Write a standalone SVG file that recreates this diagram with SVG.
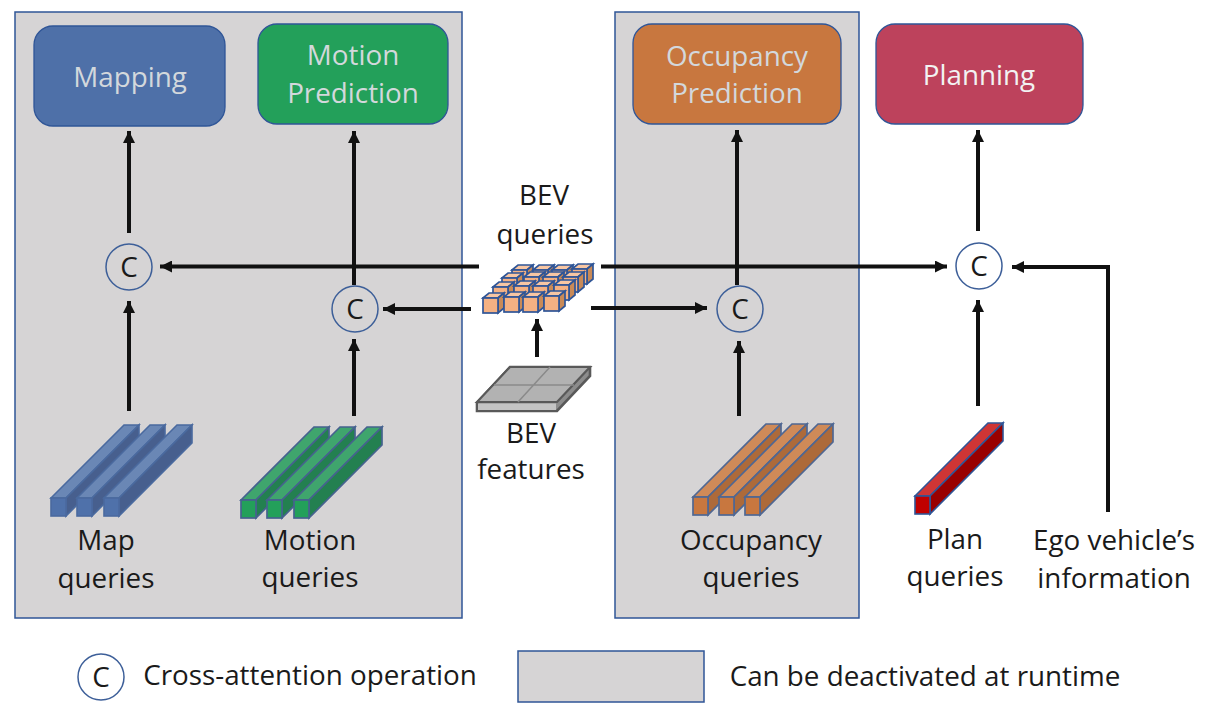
<svg xmlns="http://www.w3.org/2000/svg" width="1211" height="713" viewBox="0 0 1211 713">
<style>
text{font-family:"Open Sans","Noto Sans",sans-serif;font-size:27.8px;fill:#1a1a1a;text-anchor:middle;stroke:none}
text.l{fill:#d3d8dc}
text.p{fill:#f2f2f2}
.panel{fill:#d6d4d5;stroke:#2f5597;stroke-width:1.5}
.box{stroke:#2f5597;stroke-width:1.3}
.circ{fill:none;stroke:#3d5f99;stroke-width:1.5}
.w{fill:none;stroke:#111;stroke-width:4}
.f1{fill:var(--a);stroke:var(--s);stroke-width:var(--sw)}
.f2{fill:var(--b);stroke:var(--s);stroke-width:var(--sw)}
.f3{fill:var(--d);stroke:var(--s);stroke-width:var(--sw)}
.blue{--a:#4f71aa;--b:#6a87b5;--d:#475f8e;--s:#4a6a9f;--sw:1.6px}
.green{--a:#23a05a;--b:#3fa56d;--d:#238050;--s:#46628f;--sw:1.7px}
.orange{--a:#c8773f;--b:#cf8a58;--d:#ad6a3a;--s:#4f6793;--sw:1.7px}
.red{--a:#c00000;--b:#cf3535;--d:#990000;--s:#2f5597;--sw:1.6px}
.q{--a:#f4b183;--b:#f7c6a3;--d:#c98a57;--s:#2f5597;--sw:1.7px}
</style>
<defs>
<marker id="ah" markerWidth="12" markerHeight="12" refX="12" refY="6" orient="auto" markerUnits="userSpaceOnUse"><path d="M0 0L12 6L0 12z" fill="#111"/></marker>
<g id="bar"><polygon class="f2" points="0,0 73,-73 88,-73 15,0"/><polygon class="f3" points="15,0 88,-73 88,-55 15,18"/><rect class="f1" width="15" height="18"/></g>
<g id="cube"><polygon class="f2" points="0,0 6,-5 21,-5 15,0"/><polygon class="f3" points="15,0 21,-5 21,10 15,15"/><rect class="f1" width="15" height="15"/></g>
</defs>

<g id="panel-left"><rect class="panel" x="15" y="12" width="447" height="606"/></g>
<g id="panel-occ"><rect class="panel" x="615" y="12" width="244" height="606"/></g>

<g id="connectors">
<path class="w" marker-end="url(#ah)" d="M129 233V131"/>
<path class="w" marker-end="url(#ah)" d="M129 411V301"/>
<path class="w" marker-end="url(#ah)" d="M354 285V131"/>
<path class="w" marker-end="url(#ah)" d="M354 416V339"/>
<path class="w" marker-end="url(#ah)" d="M737 285V130"/>
<path class="w" marker-end="url(#ah)" d="M739 416V341"/>
<path class="w" marker-end="url(#ah)" d="M978 231V130"/>
<path class="w" marker-end="url(#ah)" d="M978 406V300"/>
<path class="w" marker-end="url(#ah)" d="M479 266.500H160"/>
<path class="w" marker-end="url(#ah)" d="M601 266.500H947"/>
<path class="w" marker-end="url(#ah)" d="M471 309H383"/>
<path class="w" marker-end="url(#ah)" d="M591 308H707"/>
<path class="w" marker-end="url(#ah)" d="M537 357V319"/>
<path class="w" marker-end="url(#ah)" d="M1108 512V267H1012"/>
</g>

<g id="mapping"><rect class="box" x="34" y="26" width="191" height="100" rx="19" fill="#4e70a8"/><text class="l" x="130" y="87">Mapping</text></g>
<g id="motion-prediction"><rect class="box" x="258" y="24" width="190" height="100" rx="19" fill="#23a05a"/><text class="l" x="353" y="65">Motion</text><text class="l" x="353" y="103">Prediction</text></g>
<g id="occupancy-prediction"><rect class="box" x="633" y="24" width="208" height="100" rx="19" fill="#c8773f"/><text class="l" x="737" y="66">Occupancy</text><text class="l" x="737" y="103">Prediction</text></g>
<g id="planning"><rect class="box" x="876" y="24" width="207" height="100" rx="19" fill="#bd425c"/><text class="p" x="979" y="85">Planning</text></g>

<g id="c-map"><circle class="circ" cx="129" cy="267" r="23"/><text x="129" y="277">C</text></g>
<g id="c-motion"><circle class="circ" cx="355" cy="309" r="23"/><text x="355" y="319">C</text></g>
<g id="c-occ"><circle class="circ" cx="740" cy="309" r="23"/><text x="740" y="319">C</text></g>
<g id="c-plan"><circle class="circ" cx="979" cy="266" r="23"/><text x="979" y="276">C</text></g>

<g id="bev-queries" class="q">
<use href="#cube" x="512" y="270"/><use href="#cube" x="533" y="270"/><use href="#cube" x="552" y="270"/><use href="#cube" x="572" y="269"/>
<use href="#cube" x="502" y="278"/><use href="#cube" x="524" y="277"/><use href="#cube" x="543" y="277"/><use href="#cube" x="563" y="277"/>
<use href="#cube" x="493" y="287"/><use href="#cube" x="514" y="286"/><use href="#cube" x="533" y="286"/><use href="#cube" x="554" y="285"/>
<use href="#cube" x="483" y="298"/><use href="#cube" x="504" y="297"/><use href="#cube" x="523" y="297"/><use href="#cube" x="544" y="296"/>
<text x="544" y="205">BEV</text><text x="545" y="244">queries</text>
</g>
<g id="bev-features">
<polygon points="477,403 510,367 590,367 590,376 557,411 477,411" fill="#8c8c8c" stroke="#595959" stroke-width="2.6"/>
<polygon points="477,402 510,367 590,367 557,402" fill="#b2b2b2" stroke="#595959" stroke-width="2.2"/>
<rect x="478" y="403.500" width="78" height="6.500" fill="#c4c4c4"/>
<path d="M494 385H574M550 367L518 402" stroke="#8a8a8a" stroke-width="1.5" fill="none"/>
<text x="531" y="443">BEV</text><text x="531" y="479">features</text>
</g>
<g id="map-queries" class="blue"><use href="#bar" x="51" y="498"/><use href="#bar" x="77" y="498"/><use href="#bar" x="104" y="498"/><text x="106" y="550">Map</text><text x="106" y="588">queries</text></g>
<g id="motion-queries" class="green"><use href="#bar" x="241" y="500"/><use href="#bar" x="267" y="500"/><use href="#bar" x="294" y="500"/><text x="310" y="550">Motion</text><text x="310" y="587">queries</text></g>
<g id="occupancy-queries" class="orange"><use href="#bar" x="693" y="497"/><use href="#bar" x="719" y="497"/><use href="#bar" x="745" y="497"/><text x="751" y="550">Occupancy</text><text x="751" y="587">queries</text></g>
<g id="plan-queries" class="red"><use href="#bar" x="915" y="496"/><text x="955" y="549">Plan</text><text x="955" y="586">queries</text></g>
<g id="ego"><text x="1114" y="550">Ego vehicle’s</text><text x="1114" y="588">information</text></g>

<g id="legend-c"><circle class="circ" cx="101" cy="677" r="23"/><text x="101" y="687">C</text><text x="310" y="685">Cross-attention operation</text></g>
<g id="legend-panel"><rect class="panel" x="518" y="651" width="186" height="51"/><text x="925" y="686">Can be deactivated at runtime</text></g>
</svg>
